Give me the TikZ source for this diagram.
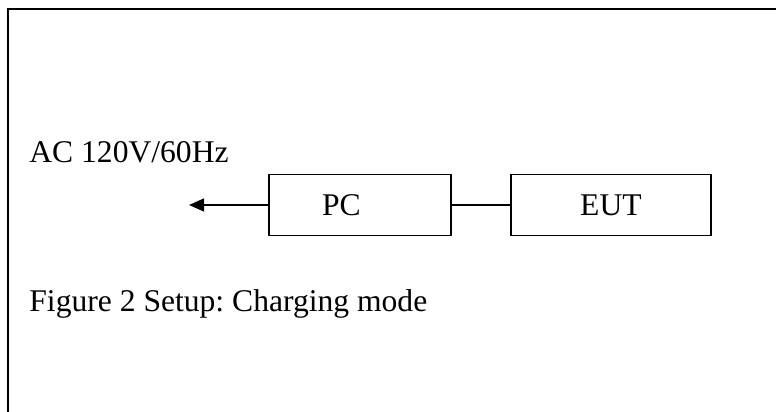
\documentclass[tikz,border=0pt]{standalone}
\usepackage{fontspec}
\setmainfont{Liberation Serif}
\usepackage{tikz}
\usetikzlibrary{arrows.meta,positioning}
\frenchspacing
\tikzset{
  frame/.style={line width=1pt,draw=black},
  box/.style={rectangle,draw=black,line width=0.85pt,minimum height=30.6pt,
    inner sep=0pt,font=\fontsize{15.8pt}{18pt}\selectfont},
  caption/.style={anchor=base west,inner sep=0pt,font=\fontsize{15.8pt}{18pt}\selectfont},
  arrow/.style={-{Triangle[length=7.5pt,width=6.5pt]},line width=0.7pt},
  wire/.style={line width=0.8pt}
}
\begin{document}
\begin{tikzpicture}[x=0.5pt,y=-0.5pt]
\useasboundingbox (0,0) rectangle (776,412);
\draw[frame] (8,412) -- (8,9) -- (776,9);
\node[caption] (mainslabel) at (29,162) {AC 120V/60Hz};
\node[box,minimum width=90.9pt,text width=38pt,align=left] (pc) at (360,205) {PC};
\node[box,minimum width=99.9pt,right=29.2pt of pc] (eut) {EUT};
\coordinate[left=39.6pt of pc] (mains);
\node[caption] (figcaption) at (29,311) {Figure 2 Setup: Charging mode};
\draw[arrow] (pc) -- (mains);
\draw[wire] (pc) -- (eut);
\end{tikzpicture}
\end{document}
